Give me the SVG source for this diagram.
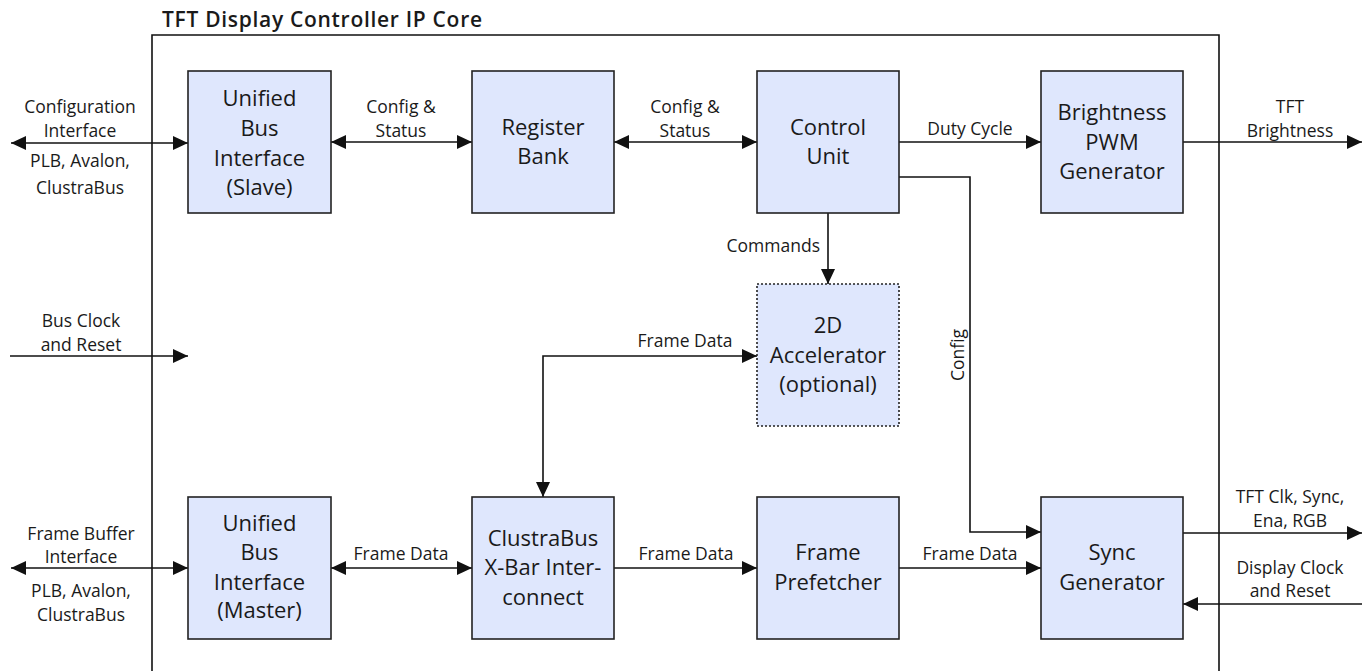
<svg xmlns="http://www.w3.org/2000/svg" width="1370" height="671" viewBox="0 0 1370 671">
<style>
text{font-family:"Open Sans","Liberation Sans",sans-serif;fill:#1a1a1a;text-anchor:middle}
.bt{font-size:22px}
.lb{font-size:17.5px}
.title{font-size:21px;font-weight:600;letter-spacing:0.7px;text-anchor:start}
.box{fill:#dfe7fd;stroke:#222;stroke-width:1.6}
.dot{stroke-dasharray:2 2}
.ln{fill:none;stroke:#111;stroke-width:1.6}
</style>
<defs>
<marker id="ah" viewBox="0 0 15 14" refX="15" refY="7" markerWidth="15" markerHeight="14" markerUnits="userSpaceOnUse" orient="auto-start-reverse">
<path d="M0,0 L15,7 L0,14 z" fill="#111"/>
</marker>
</defs>
<rect x="0" y="0" width="1370" height="671" fill="#fff"/>
<g id="frame">
<path class="ln" d="M152,680 V35 H1219 V680"/>
<text class="title" x="162" y="27">TFT Display Controller IP Core</text>
</g>
<g id="connectors">
<path class="ln" d="M11,143 H188" marker-start="url(#ah)" marker-end="url(#ah)"/>
<path class="ln" d="M331,142 H472" marker-start="url(#ah)" marker-end="url(#ah)"/>
<path class="ln" d="M614,142 H757" marker-start="url(#ah)" marker-end="url(#ah)"/>
<path class="ln" d="M899,142 H1041" marker-end="url(#ah)"/>
<path class="ln" d="M1183,142 H1362" marker-end="url(#ah)"/>
<path class="ln" d="M899,177 H970 V532 H1041" marker-end="url(#ah)"/>
<path class="ln" d="M828,213 V284" marker-end="url(#ah)"/>
<path class="ln" d="M543,497 V356 H757" marker-start="url(#ah)" marker-end="url(#ah)"/>
<path class="ln" d="M10,356 H188" marker-end="url(#ah)"/>
<path class="ln" d="M11,568 H188" marker-start="url(#ah)" marker-end="url(#ah)"/>
<path class="ln" d="M331,568 H472" marker-start="url(#ah)" marker-end="url(#ah)"/>
<path class="ln" d="M614,568 H757" marker-end="url(#ah)"/>
<path class="ln" d="M899,568 H1041" marker-end="url(#ah)"/>
<path class="ln" d="M1183,533 H1362" marker-end="url(#ah)"/>
<path class="ln" d="M1362,604 H1183" marker-end="url(#ah)"/>
<text class="lb" x="80" y="113">Configuration</text>
<text class="lb" x="80" y="137">Interface</text>
<text class="lb" x="80" y="167">PLB, Avalon,</text>
<text class="lb" x="80" y="194">ClustraBus</text>
<text class="lb" x="401" y="113">Config &amp;</text>
<text class="lb" x="401" y="137">Status</text>
<text class="lb" x="685" y="113">Config &amp;</text>
<text class="lb" x="685" y="137">Status</text>
<text class="lb" x="970" y="135">Duty Cycle</text>
<text class="lb" x="1290" y="113">TFT</text>
<text class="lb" x="1290" y="137">Brightness</text>
<text class="lb" x="820" y="252" style="text-anchor:end">Commands</text>
<text class="lb" x="685" y="347">Frame Data</text>
<text class="lb" transform="translate(964,355) rotate(-90)">Config</text>
<text class="lb" x="81" y="327">Bus Clock</text>
<text class="lb" x="81" y="351">and Reset</text>
<text class="lb" x="81" y="540">Frame Buffer</text>
<text class="lb" x="81" y="563">Interface</text>
<text class="lb" x="81" y="597">PLB, Avalon,</text>
<text class="lb" x="81" y="621">ClustraBus</text>
<text class="lb" x="401" y="560">Frame Data</text>
<text class="lb" x="686" y="560">Frame Data</text>
<text class="lb" x="970" y="560">Frame Data</text>
<text class="lb" x="1290" y="503">TFT Clk, Sync,</text>
<text class="lb" x="1290" y="527">Ena, RGB</text>
<text class="lb" x="1290" y="574">Display Clock</text>
<text class="lb" x="1290" y="597">and Reset</text>
</g>
<g id="ubi-slave">
<rect class="box" x="188" y="71" width="143" height="142"/>
<text class="bt" x="259.5" y="106">Unified</text>
<text class="bt" x="259.5" y="136">Bus</text>
<text class="bt" x="259.5" y="166">Interface</text>
<text class="bt" x="259.5" y="195">(Slave)</text>
</g>
<g id="register-bank">
<rect class="box" x="472" y="71" width="142" height="142"/>
<text class="bt" x="543" y="135">Register</text>
<text class="bt" x="543" y="164">Bank</text>
</g>
<g id="control-unit">
<rect class="box" x="757" y="71" width="142" height="142"/>
<text class="bt" x="828" y="135">Control</text>
<text class="bt" x="828" y="164">Unit</text>
</g>
<g id="pwm">
<rect class="box" x="1041" y="71" width="142" height="142"/>
<text class="bt" x="1112" y="120">Brightness</text>
<text class="bt" x="1112" y="150">PWM</text>
<text class="bt" x="1112" y="179">Generator</text>
</g>
<g id="accel">
<rect class="box dot" x="757" y="284" width="142" height="142"/>
<text class="bt" x="828" y="333">2D</text>
<text class="bt" x="828" y="363">Accelerator</text>
<text class="bt" x="828" y="392">(optional)</text>
</g>
<g id="ubi-master">
<rect class="box" x="188" y="497" width="143" height="142"/>
<text class="bt" x="259.5" y="531">Unified</text>
<text class="bt" x="259.5" y="560">Bus</text>
<text class="bt" x="259.5" y="590">Interface</text>
<text class="bt" x="259.5" y="618">(Master)</text>
</g>
<g id="xbar">
<rect class="box" x="472" y="497" width="142" height="142"/>
<text class="bt" x="543" y="546">ClustraBus</text>
<text class="bt" x="543" y="575">X-Bar Inter-</text>
<text class="bt" x="543" y="605">connect</text>
</g>
<g id="prefetcher">
<rect class="box" x="757" y="497" width="142" height="142"/>
<text class="bt" x="828" y="560">Frame</text>
<text class="bt" x="828" y="590">Prefetcher</text>
</g>
<g id="sync">
<rect class="box" x="1041" y="497" width="142" height="142"/>
<text class="bt" x="1112" y="560">Sync</text>
<text class="bt" x="1112" y="590">Generator</text>
</g>
</svg>
